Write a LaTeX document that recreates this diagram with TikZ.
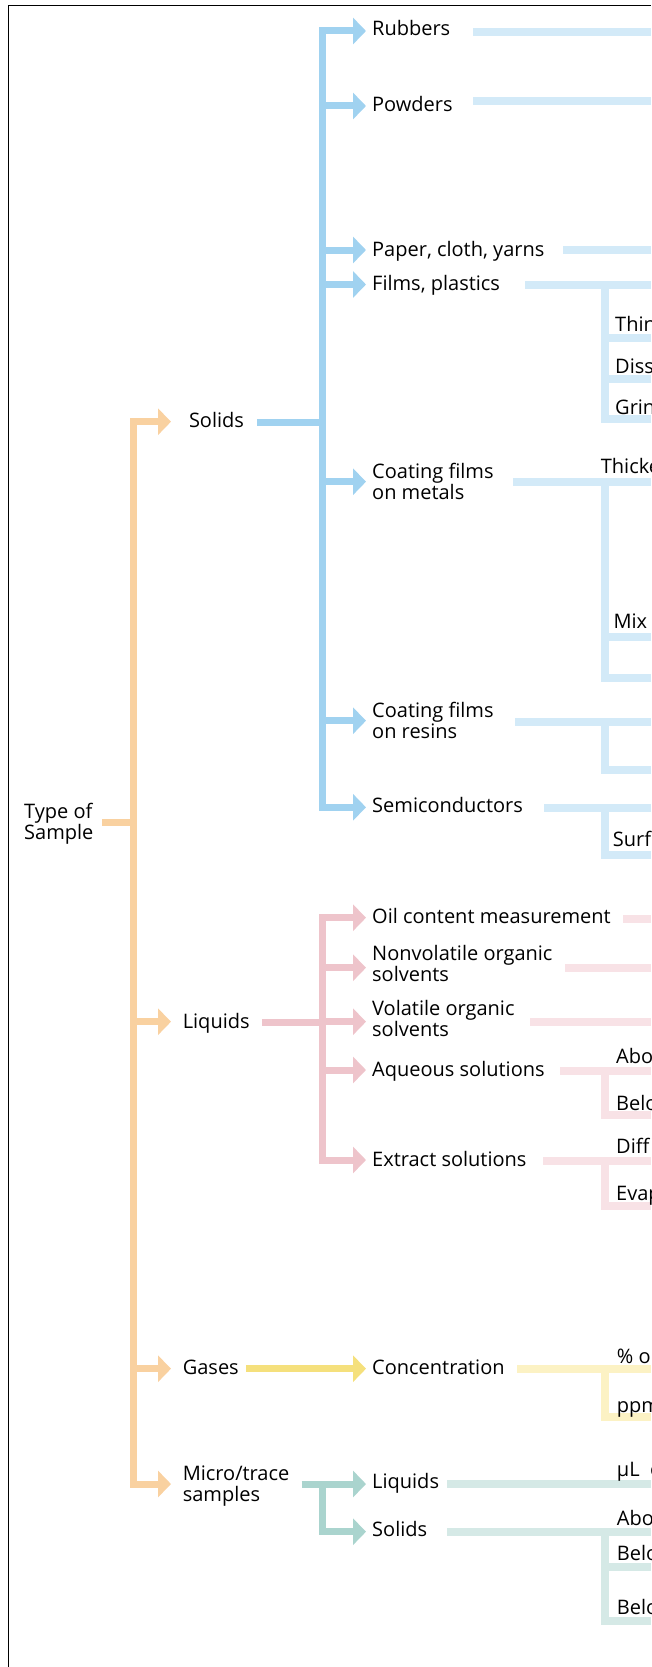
\documentclass[tikz,border=0pt]{standalone}
\usepackage{fontspec}
\setmainfont{Open Sans}
\usetikzlibrary{arrows.meta}

\definecolor{typeA}{RGB}{249,209,160}
\definecolor{solidA}{RGB}{160,210,240}
\definecolor{solidB}{RGB}{211,234,248}
\definecolor{liquidA}{RGB}{238,196,203}
\definecolor{liquidB}{RGB}{248,226,230}
\definecolor{gasA}{RGB}{245,224,124}
\definecolor{gasB}{RGB}{252,242,196}
\definecolor{microA}{RGB}{170,212,206}
\definecolor{microB}{RGB}{213,233,230}

\begin{document}
\begin{tikzpicture}[x=1pt,y=-1pt,
    lbl/.style={anchor=base west, inner sep=0pt, align=left, font=\fontsize{20}{21}\selectfont},
    trunk/.style={line width=7pt, line join=miter},
    fat/.style={trunk, -{Triangle[width=26pt,length=13pt]}},
    lite/.style={line width=8pt, line join=miter}]

  % Page size, cut off what runs past the right edge
  \useasboundingbox (0,0) rectangle (651,1667);
  \clip (0,0) rectangle (651,1667);

  % Frame
  \draw[line width=1.2pt] (8.8,1667) -- (8.8,5.3) -- (651,5.3);
  \coordinate (edge) at (651,0);
  \coordinate (brk) at (605.4,0);

  % Orange: type of sample
  \coordinate (type-bar) at (102,822);
  \coordinate (root) at (133,822);
  \foreach \n/\y in {sol/421.7, liq/1021.7, gas/1368.7, mic/1484}
    \coordinate (\n-tip) at (171,\y);
  \draw[trunk, typeA] (type-bar) -- (root);
  \draw[fat, typeA] (root) |- (sol-tip);
  \draw[fat, typeA] (root) |- (mic-tip);
  \draw[fat, typeA] (root |- liq-tip) -- (liq-tip);
  \draw[fat, typeA] (root |- gas-tip) -- (gas-tip);

  % Blue: solids
  \coordinate (sol-bar) at (257,422);
  \coordinate (bj) at (322,422);
  \foreach \n/\y in {rub/31, pow/106, pap/250, fil/284.5, met/481.7, res/720.7, sem/807.3}
    \coordinate (\n-tip) at (366,\y);
  \draw[trunk, solidA] (sol-bar) -- (bj);
  \draw[fat, solidA] (bj) |- (rub-tip);
  \draw[fat, solidA] (bj) |- (sem-tip);
  \foreach \n in {pow,pap,fil,met,res}
    \draw[fat, solidA] (bj |- \n-tip) -- (\n-tip);

  % Pink: liquids
  \coordinate (liq-bar) at (262,1022);
  \coordinate (pj) at (322,1022);
  \foreach \n/\y in {oil/917.7, nvo/967.7, vol/1021.7, aqu/1070, ext/1160}
    \coordinate (\n-tip) at (366,\y);
  \draw[trunk, liquidA] (liq-bar) -- (pj);
  \draw[fat, liquidA] (pj) |- (oil-tip);
  \draw[fat, liquidA] (pj) |- (ext-tip);
  \foreach \n in {nvo,vol,aqu}
    \draw[fat, liquidA] (pj |- \n-tip) -- (\n-tip);

  % Yellow: gases
  \coordinate (gas-bar) at (246,1368.7);
  \coordinate (con-tip) at (366,1368.7);
  \draw[fat, gasA] (gas-bar) -- (con-tip);

  % Teal: micro/trace samples
  \coordinate (mic-bar) at (301.7,1484);
  \coordinate (tj) at (322,1484);
  \coordinate (mli-tip) at (366,1484);
  \coordinate (mso-tip) at (366,1531.7);
  \draw[fat, microA] (mic-bar) -- (mli-tip);
  \draw[fat, microA] (tj) |- (mso-tip);

  % Pale bars out to the right edge
  \foreach \n/\x/\y in {rub/473/32, pow/473/101.2, pap/563/250, fil/525/285,
      met/513/482, res/515/721.5, sem/544/807.5}
    \coordinate (\n-bar) at (\x,\y);
  \foreach \n/\x/\y in {oil/623/918.5, nvo/565/968, vol/530/1022, aqu/560/1070.5, ext/543/1161.3}
    \coordinate (\n-bar) at (\x,\y);
  \coordinate (con-bar) at (517,1369);
  \coordinate (mli-bar) at (447,1484);
  \coordinate (mso-bar) at (447,1531.7);

  % Branch points of the brackets
  \foreach \n/\y in {fil1/338, fil2/379, fil3/419, met1/636.7, met2/678, res1/770, sem1/855,
      aqu1/1115, ext1/1205.5, con1/1417, mso1/1566.7, mso2/1621}
    \coordinate (\n) at (605.4,\y);

  \foreach \n in {rub,pow,pap,fil,met,res,sem}
    \draw[lite, solidB] (\n-bar) -- (\n-bar -| edge);
  \draw[lite, solidB] (fil-bar -| brk) |- (fil3 -| edge);
  \foreach \n in {fil1,fil2,met1}
    \draw[lite, solidB] (\n) -- (\n -| edge);
  \draw[lite, solidB] (met-bar -| brk) |- (met2 -| edge);
  \draw[lite, solidB] (res-bar -| brk) |- (res1 -| edge);
  \draw[lite, solidB] (sem-bar -| brk) |- (sem1 -| edge);

  \foreach \n in {oil,nvo,vol,aqu,ext}
    \draw[lite, liquidB] (\n-bar) -- (\n-bar -| edge);
  \draw[lite, liquidB] (aqu-bar -| brk) |- (aqu1 -| edge);
  \draw[lite, liquidB] (ext-bar -| brk) |- (ext1 -| edge);

  \draw[lite, gasB] (con-bar) -- (con-bar -| edge);
  \draw[lite, gasB] (con-bar -| brk) |- (con1 -| edge);

  \draw[lite, microB] (mli-bar) -- (mli-bar -| edge);
  \draw[lite, microB] (mso-bar) -- (mso-bar -| edge);
  \draw[lite, microB] (mso-bar -| brk) |- (mso2 -| edge);
  \draw[lite, microB] (mso1) -- (mso1 -| edge);

  % Root and sample types (two-line labels sit on their last line)
  \node[lbl] (type) at (24,839) {Type of\\Sample};
  \node[lbl] (solids) at (188.8,427.3) {Solids};
  \node[lbl] (liquids) at (182.6,1028.3) {Liquids};
  \node[lbl] (gases) at (182.6,1374) {Gases};
  \node[lbl] (micro) at (182.6,1501) {Micro/trace\\samples};

  % Second level
  \node[lbl] (rubbers) at (372,36) {Rubbers};
  \node[lbl] (powders) at (372,111.7) {Powders};
  \node[lbl] (paper) at (372,256) {Paper, cloth, yarns};
  \node[lbl] (films) at (372,290) {Films, plastics};
  \node[lbl] (metals) at (372,499.3) {Coating films\\on metals};
  \node[lbl] (resins) at (372,738.3) {Coating films\\on resins};
  \node[lbl] (semi) at (372,812.7) {Semiconductors};
  \node[lbl] (oil) at (372,923.3) {Oil content measurement};
  \node[lbl] (nonvol) at (372,981.5) {Nonvolatile organic\\solvents};
  \node[lbl] (vol) at (372,1036.5) {Volatile organic\\solvents};
  \node[lbl] (aqueous) at (372,1076) {Aqueous solutions};
  \node[lbl] (extract) at (372,1166) {Extract solutions};
  \node[lbl] (conc) at (372,1374) {Concentration};
  \node[lbl] (mliquids) at (372,1488.3) {Liquids};
  \node[lbl] (msolids) at (372,1536.7) {Solids};

  % Third level, cut by the right edge
  \foreach \n/\x/\y/\t in {thin/615/331.7/Thin, diss/615/373.3/Diss, grin/615/414/Grin,
      thick/600.7/473/Thicke, mix/613.3/628.3/Mix, surf/612.7/846.7/Surf,
      abo/616/1063.3/Abo, belo/616/1110/Belo, diff/616/1153.3/Diff, evap/616/1200/Evap,
      pct/616.7/1363.3/\% o, ppm/616.7/1412.7/ppm, ul/616.7/1476/µL\ \ o,
      mabo/616.7/1525/Abo, mbelo/616.7/1560/Belo, mbelow/616.7/1614/Belo}
    \node[lbl] (\n) at (\x,\y) {\t};

\end{tikzpicture}
\end{document}
